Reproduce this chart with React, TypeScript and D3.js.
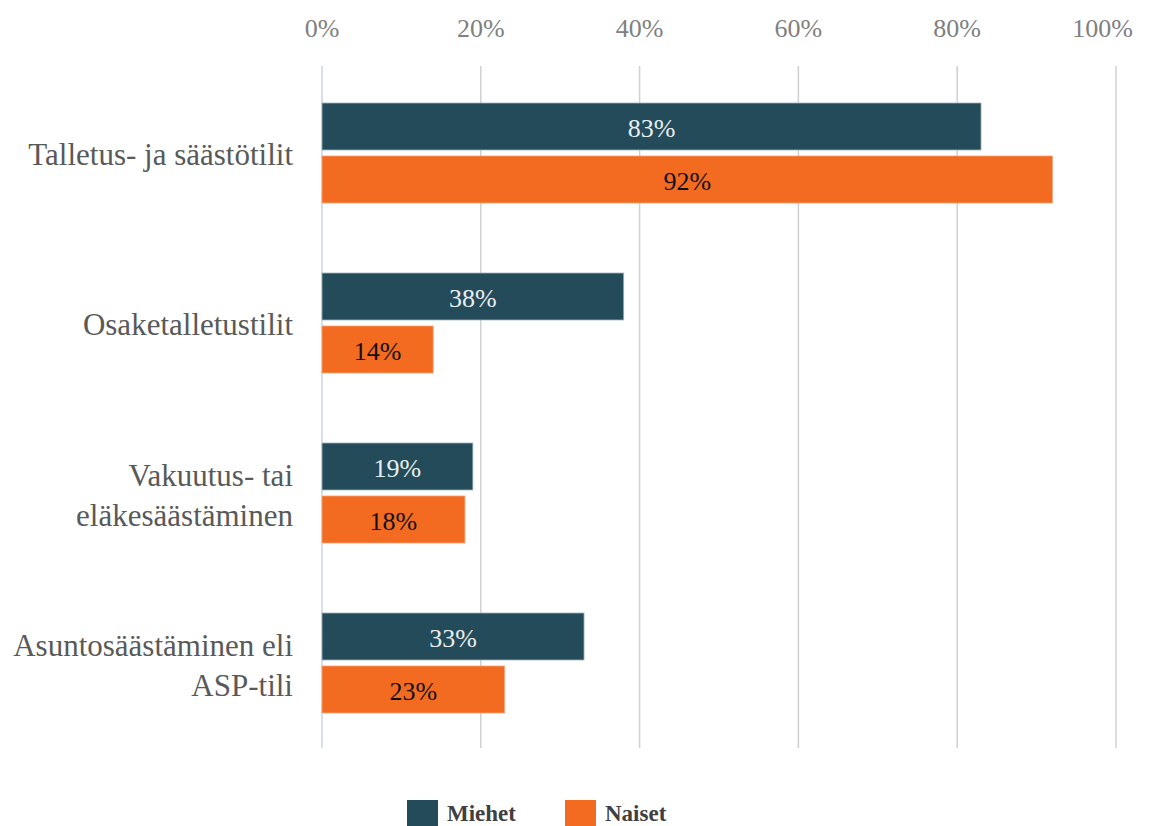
import React from "react";
import * as d3 from "d3";

const categories = [
  ["Talletus- ja säästötilit"],
  ["Osaketalletustilit"],
  ["Vakuutus- tai", "eläkesäästäminen"],
  ["Asuntosäästäminen eli", "ASP-tili"],
];
const categoryKeys = ["talletus", "osake", "vakuutus", "asunto"];
const miehet = [83, 38, 19, 33];
const naiset = [92, 14, 18, 23];
const seriesNames = ["Miehet", "Naiset"];
const ticks = [0, 20, 40, 60, 80, 100];

const W = 1149;
const H = 826;
const left = 322;
const right = 1116;
const top = 68;
const bottom = 748;
const colors = ["#244B5A", "#F26B21"];
const font = "'Liberation Serif', 'DejaVu Serif', serif";

export default function App() {
  const x = d3.scaleLinear().domain([0, 100]).range([left, right]);
  const y = d3.scaleBand().domain(categoryKeys).range([top, bottom]).paddingInner(0).paddingOuter(0);
  const barH = 47;
  const gap = 6;
  const series = [miehet, naiset];
  return (
    <svg width={W} height={H} style={{ position: "absolute", left: 0, top: 0, background: "#fff" }}>
      {ticks.map((t, ti) => {
        const last = ti === ticks.length - 1;
        return (
          <g key={t}>
            {t > 0 && (
              <line x1={x(t)} x2={x(t)} y1={66} y2={bottom} stroke="#d0d0d0" strokeWidth={1.5} />
            )}
            <text
              x={last ? W - 16 : x(t)}
              y={37}
              textAnchor={last ? "end" : "middle"}
              fontFamily={font}
              fontSize={26}
              fill="#808080"
            >
              {t}%
            </text>
          </g>
        );
      })}
      <line x1={left} x2={left} y1={66} y2={bottom} stroke="#c8d5ea" strokeWidth={1.5} />
      {categoryKeys.map((k, i) => {
        const c = (y(k) as number) + y.bandwidth() / 2;
        const lines = categories[i];
        return (
          <g key={k}>
            {series.map((s, j) => {
              const by = j === 0 ? c - gap / 2 - barH : c + gap / 2;
              const w = x(s[i]) - x(0);
              return (
                <g key={j}>
                  <rect x={x(0)} y={by} width={w} height={barH} fill={colors[j]} stroke={j === 0 ? "#9fb3bd" : "#f7a47a"} strokeWidth={0.8} />
                  <text
                    x={x(0) + w / 2}
                    y={by + barH / 2 + 10}
                    textAnchor="middle"
                    fontFamily={font}
                    fontSize={26}
                    fill={j === 0 ? "#e8eef0" : "#111"}
                  >
                    {s[i]}%
                  </text>
                </g>
              );
            })}
            {lines.map((ln, li) => (
              <text
                key={li}
                x={293}
                y={c + (lines.length > 1 ? 13 : 12) + (li - (lines.length - 1) / 2) * 40}
                textAnchor="end"
                fontFamily={font}
                fontSize={31}
                fill="#595959"
              >
                {ln}
              </text>
            ))}
          </g>
        );
      })}
      {seriesNames.map((n, j) => (
        <g key={n}>
          <rect x={407 + j * 158} y={800} width={31} height={26} fill={colors[j]} />
          <text x={447 + j * 158} y={821} fontFamily={font} fontSize={23} fontWeight="bold" fill="#404040">
            {n}
          </text>
        </g>
      ))}
    </svg>
  );
}
